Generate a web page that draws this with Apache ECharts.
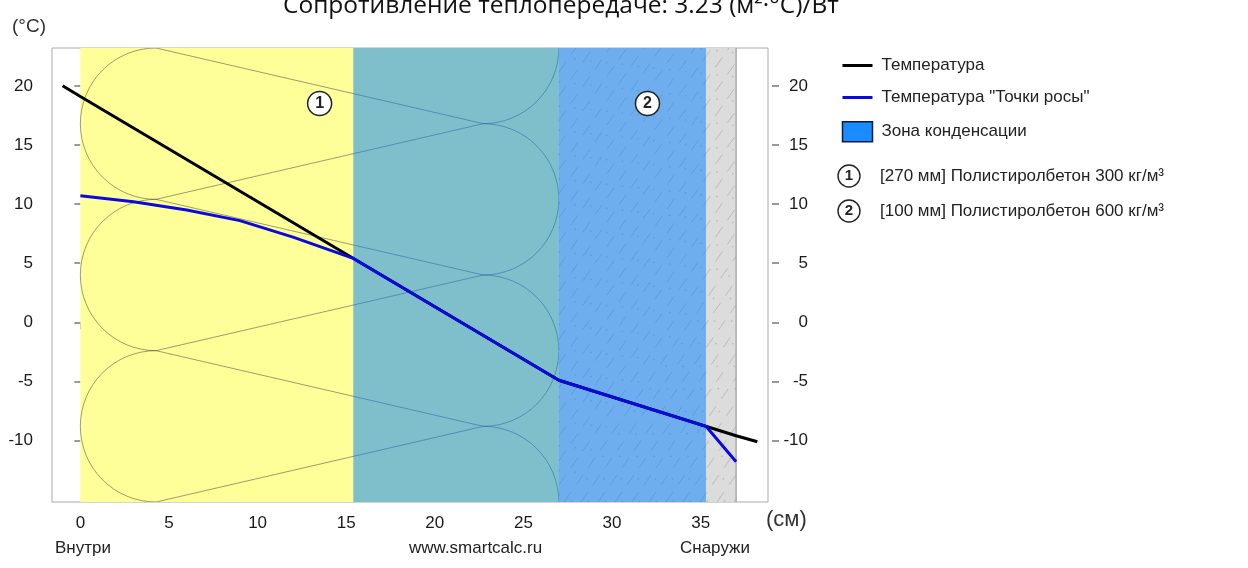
<!DOCTYPE html>
<html lang="ru">
<head>
<meta charset="UTF-8" />
<script src="https://cdn.jsdelivr.net/npm/echarts@6/dist/echarts.min.js"></script>
<style>
  html, body { margin: 0; padding: 0; background: #fff; }
  #main { width: 1248px; height: 568px; }
</style>
</head>
<body>
<div id="main"></div>
<script>
  // temperature in the wall, (cm, °C)
  const tempPoints = [[-1, 20], [0, 19.1], [27, -4.9], [37, -9.6], [38.2, -10.1]];
  const dewPoints = [[0, 10.7], [3, 10.2], [6, 9.5], [9, 8.6], [12, 7.2], [15.4, 5.4], [27, -4.9], [35.3, -8.8], [37, -11.8]];

  // wall layers (cm)
  const layerStart = [0, 27];
  const layerEnd = [27, 37];
  const layerNums = ["1", "2"];
  const layerNames = [
    "[270 мм] Полистиролбетон 300 кг/м³",
    "[100 мм] Полистиролбетон 600 кг/м³",
  ];
  const zoneRange = [15.4, 35.3];

  const xTicks = [0, 5, 10, 15, 20, 25, 30, 35];
  const yTicks = [-10, -5, 0, 5, 10, 15, 20];

  const X_MIN = -1.6, X_MAX = 38.8, Y_MIN = -15.2, Y_MAX = 23.2;
  const FONT = "Liberation Sans, Arial, sans-serif";

  const chart = echarts.init(document.getElementById("main"));

  function clipX(ax, ay, bx, by, x0, x1) {
    let t0 = 0, t1 = 1;
    const dx = bx - ax;
    if (dx !== 0) {
      let ta = (x0 - ax) / dx, tb = (x1 - ax) / dx;
      if (ta > tb) [ta, tb] = [tb, ta];
      t0 = Math.max(t0, ta);
      t1 = Math.min(t1, tb);
    }
    if (t0 >= t1) return null;
    return { x1: ax + dx * t0, y1: ay + (by - ay) * t0, x2: ax + dx * t1, y2: ay + (by - ay) * t1 };
  }

  // insulation symbol: loops + zigzag
  function insulation(x0, y0, x1, y1) {
    const n = 3, s = (y1 - y0) / n, r = s / 2;
    const lx = x0 + r, rx = x1 - r;
    const st = { fill: null, stroke: "rgba(60,60,60,0.5)", lineWidth: 1 };
    const out = [];
    for (let k = 0; k < n; k++) {
      out.push({ type: "arc", shape: { cx: lx, cy: y0 + (k + 0.5) * s, r: r, startAngle: Math.PI / 2, endAngle: Math.PI * 1.5, clockwise: true }, style: st });
    }
    for (let k = 0; k <= n; k++) {
      const a0 = k === 0 ? 0 : -Math.PI / 2;
      const a1 = k === n ? 0 : Math.PI / 2;
      out.push({ type: "arc", shape: { cx: rx, cy: y0 + k * s, r: r, startAngle: a0, endAngle: a1, clockwise: true }, style: st });
    }
    for (let k = 0; k <= n; k++) {
      [k - 1, k].forEach((j) => {
        if (j < 0 || j > n - 1) return;
        out.push({ type: "line", shape: { x1: lx, y1: y0 + k * s, x2: rx, y2: y0 + (j + 0.5) * s }, style: st });
      });
    }
    return out;
  }

  // concrete-like hatch
  function hatch(x0, y0, x1, y1) {
    const out = [];
    const h = y1 - y0, run = h * 0.7, step = 17;
    for (let c = x0 - run; c < x1 + step; c += step) {
      const seg = clipX(c, y1, c + run, y0, x0, x1);
      if (!seg) continue;
      out.push({ type: "line", shape: seg, style: { stroke: "rgba(120,110,100,0.3)", lineWidth: 1, lineDash: [12, 9] } });
      const seg2 = clipX(c + 7, y1, c + 7 + run, y0, x0, x1);
      if (seg2) out.push({ type: "line", shape: seg2, style: { stroke: "rgba(120,110,100,0.3)", lineWidth: 1.5, lineDash: [1.5, 26] } });
    }
    return out;
  }

  const layerData = layerStart.map((s, i) => [s, layerEnd[i], i]);

  chart.setOption({
    animation: false,
    grid: { left: 52, right: 480, top: 48, bottom: 66, show: true, borderColor: "#aaa", borderWidth: 1, backgroundColor: "#fff" },
    graphic: [
      { type: "text", left: 283, top: -6, style: { text: "Сопротивление теплопередаче: 3.23 (м²·°С)/Вт", font: '24.5px "Open Sans", sans-serif', fill: "#111" } },
      { type: "text", left: 12, top: 17, style: { text: "(°C)", font: "19px " + FONT, fill: "#333" } },
      { type: "text", left: 766, top: 509, style: { text: "(см)", font: "22px " + FONT, fill: "#333" } },
      { type: "text", left: 55, top: 540, style: { text: "Внутри", font: "17px " + FONT, fill: "#222" } },
      { type: "text", left: 409, top: 540, style: { text: "www.smartcalc.ru", font: "17px " + FONT, fill: "#222", align: "center" } },
      { type: "text", left: 680, top: 540, style: { text: "Снаружи", font: "17px " + FONT, fill: "#222" } },
    ].concat(
      layerNames.flatMap((name, i) => [
        { type: "circle", shape: { cx: 849, cy: 176 + i * 35, r: 11 }, style: { fill: "#fff", stroke: "#222", lineWidth: 1.4 } },
        { type: "text", x: 849, y: 176 + i * 35, style: { text: layerNums[i], font: "bold 15px " + FONT, fill: "#222", align: "center", verticalAlign: "middle" } },
        { type: "text", x: 880, y: 176 + i * 35, style: { text: name, font: "17px " + FONT, fill: "#222", verticalAlign: "middle" } },
      ])
    ),
    legend: {
      orient: "vertical",
      left: 836,
      top: 52,
      itemWidth: 30,
      itemHeight: 20,
      itemGap: 15,
      textStyle: { fontSize: 17, color: "#222", fontFamily: FONT, padding: [0, 0, 0, 4] },
      data: [
        { name: "Температура", itemStyle: { opacity: 0 }, lineStyle: { width: 3 } },
        { name: 'Температура "Точки росы"', itemStyle: { opacity: 0 }, lineStyle: { width: 3 } },
        { name: "Зона конденсации", icon: "rect", itemStyle: { color: "#1a8cff", borderColor: "#0a1a40", borderWidth: 1.5 } },
      ],
    },
    xAxis: {
      type: "value",
      min: X_MIN,
      max: X_MAX,
      offset: 1,
      splitLine: { show: false },
      axisLine: { show: false },
      axisTick: { show: true, length: 7, lineStyle: { color: "#999", width: 2 }, customValues: xTicks },
      axisLabel: { margin: 12, fontSize: 17, color: "#1a1a1a", fontFamily: FONT, customValues: xTicks },
    },
    yAxis: [
      {
        type: "value",
        min: Y_MIN,
        max: Y_MAX,
        offset: 4,
        splitLine: { show: false },
        axisLine: { show: false },
        axisTick: { show: true, length: 6, lineStyle: { color: "#999", width: 2 }, customValues: yTicks },
        axisLabel: { margin: 15, fontSize: 17, color: "#1a1a1a", fontFamily: FONT, customValues: yTicks },
      },
      {
        type: "value",
        position: "right",
        min: Y_MIN,
        max: Y_MAX,
        offset: 4,
        splitLine: { show: false },
        axisLine: { show: false },
        axisTick: { show: true, length: 7, lineStyle: { color: "#999", width: 2 }, customValues: yTicks },
        axisLabel: { margin: 36, align: "right", fontSize: 17, color: "#1a1a1a", fontFamily: FONT, customValues: yTicks },
      },
    ],
    series: [
      {
        type: "custom",
        name: "layers",
        clip: true,
        z: 1,
        data: layerData,
        encode: { x: [0, 1] },
        renderItem: (params, api) => {
          const p0 = api.coord([api.value(0), Y_MAX]);
          const p1 = api.coord([api.value(1), Y_MIN]);
          const idx = api.value(2);
          const rect = { type: "rect", shape: { x: p0[0], y: p0[1], width: p1[0] - p0[0], height: p1[1] - p0[1] }, style: { fill: idx === 0 ? "#ffff99" : "#dcdcdc" } };
          let kids = [rect];
          if (idx === 0) kids = kids.concat(insulation(p0[0], p0[1], p1[0], p1[1]));
          else {
            kids = kids.concat(hatch(p0[0], p0[1], p1[0], p1[1]));
            kids.push({ type: "line", shape: { x1: p1[0], y1: p0[1], x2: p1[0], y2: p1[1] }, style: { stroke: "#999", lineWidth: 1.2 } });
          }
          return { type: "group", children: kids };
        },
      },
      {
        type: "custom",
        name: "Зона конденсации",
        clip: true,
        z: 2,
        itemStyle: { color: "#1a8cff" },
        data: [zoneRange],
        encode: { x: [0, 1] },
        renderItem: (params, api) => {
          const p0 = api.coord([api.value(0), Y_MAX]);
          const p1 = api.coord([api.value(1), Y_MIN]);
          return { type: "rect", shape: { x: p0[0], y: p0[1], width: p1[0] - p0[0], height: p1[1] - p0[1] }, style: { fill: "rgba(0,128,255,0.5)" } };
        },
      },
      {
        type: "line",
        name: "Температура",
        z: 3,
        data: tempPoints,
        symbol: "none",
        lineStyle: { color: "#000", width: 3 },
        itemStyle: { color: "#000" },
      },
      {
        type: "line",
        name: 'Температура "Точки росы"',
        z: 4,
        data: dewPoints,
        symbol: "none",
        lineStyle: { color: "#0a0adf", width: 3 },
        itemStyle: { color: "#0a0adf" },
      },
      {
        type: "scatter",
        name: "labels",
        z: 5,
        data: layerStart.map((s, i) => [(s + layerEnd[i]) / 2, 18.5, layerNums[i]]),
        symbol: "circle",
        symbolSize: 24,
        itemStyle: { color: "#fff", borderColor: "#222", borderWidth: 1.5, opacity: 1 },
        label: { show: true, position: "inside", formatter: (p) => p.value[2], fontSize: 16, fontWeight: "bold", color: "#222", fontFamily: FONT },
      },
    ],
  });
</script>
</body>
</html>
